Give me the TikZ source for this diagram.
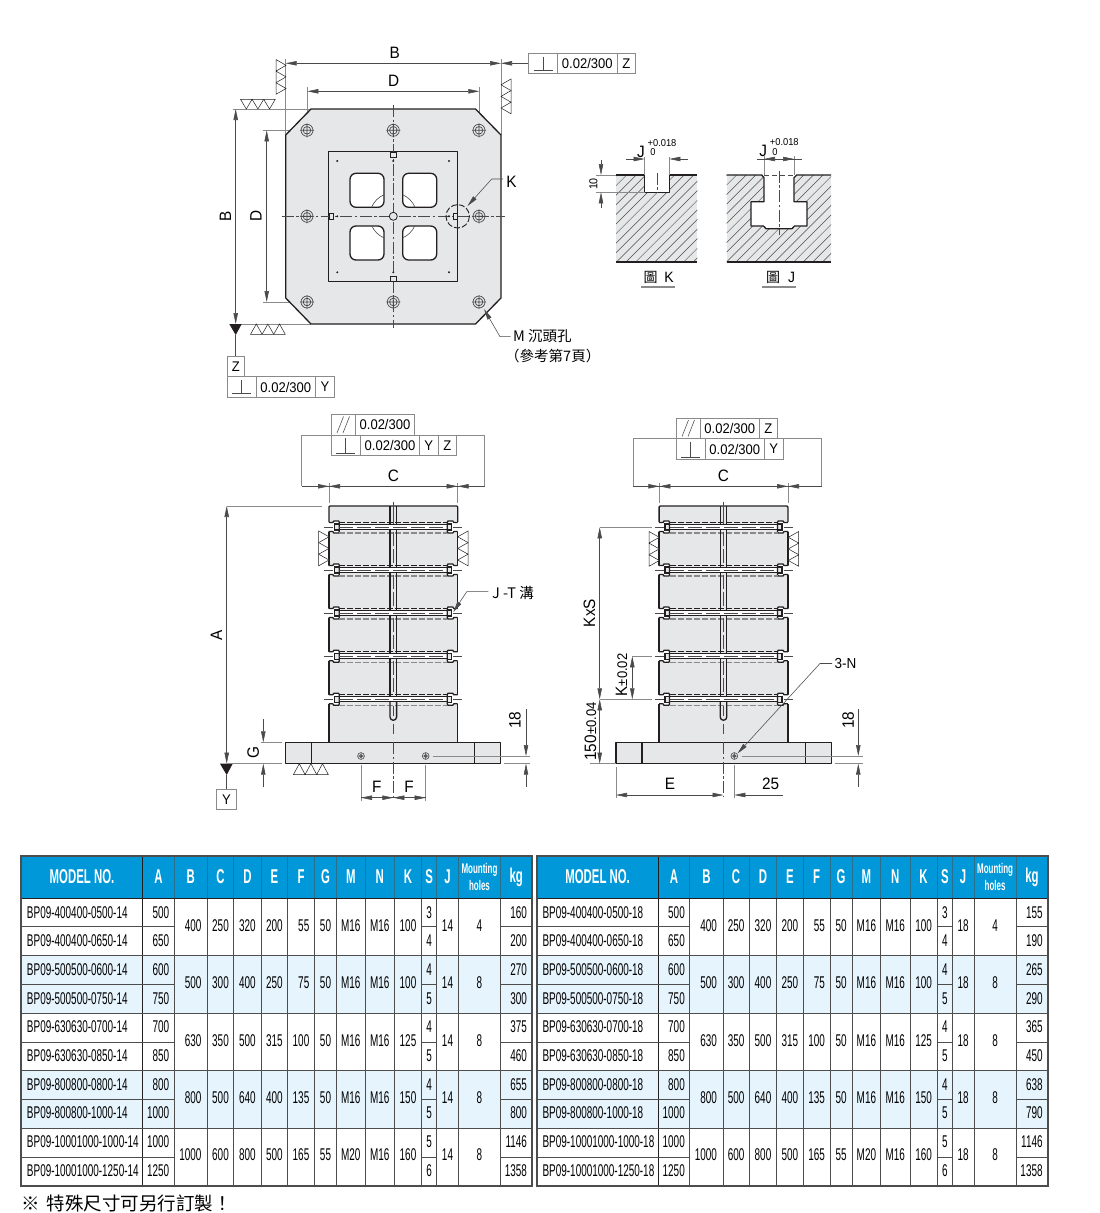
\documentclass[tikz,border=0pt]{standalone}
\usepackage{fontspec}
\setmainfont{Liberation Sans}
\newfontfamily\cjk{Noto Sans CJK TC}
\newfontfamily\tnum[FakeStretch=0.585]{Liberation Sans}
\newfontfamily\tbold[FakeStretch=0.57]{Liberation Sans Bold}
\newfontfamily\dimf[FakeStretch=0.93]{Liberation Sans}
\usetikzlibrary{arrows.meta}
\definecolor{ink}{HTML}{231F20}
\definecolor{thinc}{HTML}{4A4A4A}
\definecolor{extc}{HTML}{8A8A8A}
\definecolor{plate}{HTML}{E6E7E8}
\definecolor{headb}{HTML}{0098D8}
\definecolor{zebra}{HTML}{E6F4FD}
\definecolor{gridc}{HTML}{4D4D4D}
\tikzset{
  heavy/.style={draw=ink,line width=1.3pt,line join=round},
  thinl/.style={draw=thinc,line width=0.55pt},
  extl/.style={draw=extc,line width=0.7pt},
  toll/.style={draw=extc,line width=0.9pt},
  cen/.style={draw=thinc,line width=0.55pt,dash pattern=on 12pt off 2.5pt on 2.5pt off 2.5pt},
  arr/.style={-{Triangle[length=11pt,width=4.4pt]}},
  arrs/.style={{Triangle[length=11pt,width=4.4pt]}-{Triangle[length=11pt,width=4.4pt]}},
  lab/.style={inner sep=0pt,font=\dimf\fontsize{16.5}{18}\selectfont},
  tol/.style={inner sep=0pt,font=\dimf\fontsize{14}{16}\selectfont},
  cjkl/.style={inner sep=0pt,font=\cjk\fontsize{14.5}{16}\selectfont,anchor=west},
  cell/.style={inner sep=0pt,font=\tnum\fontsize{17}{18}\selectfont},
  hcell/.style={inner sep=0pt,text=white,font=\tbold\fontsize{20}{21}\selectfont},
}
\newcommand{\trisH}[3]{\foreach \q in {0,1,2}{\draw[draw=ink,line width=0.5pt,fill=white] ({#3+\q*11.6},#1)--({#3+(\q+.5)*11.6},#2)--({#3+(\q+1)*11.6},#1)--cycle;}}
\newcommand{\trisV}[3]{\foreach \q in {0,1,2}{\draw[draw=ink,line width=0.5pt,fill=white] (#1,{#3+\q*11.6})--(#2,{#3+(\q+.5)*11.6})--(#1,{#3+(\q+1)*11.6})--cycle;}}
\newcommand{\perpsym}[4]{\draw[thinl] ({#1-#4},#2)--({#1+#4},#2) (#1,#2)--(#1,#3);}
\newcommand{\hole}[2]{\draw[draw=thinc,line width=0.7pt,fill=plate] (#1,#2) circle (6);\draw[draw=thinc,line width=0.7pt] (#1,#2) circle (3.8) (#1-7,#2)--(#1+7,#2) (#1,#2-7)--(#1,#2+7);}
\newcommand{\dotm}[2]{\fill[ink] (#1,#2) circle (1.1);}
\newcommand{\joint}[1]{%
  \pgfmathsetmacro{\Ja}{#1-4.5}\pgfmathsetmacro{\Jb}{#1+4.5}\pgfmathsetmacro{\Jc}{#1-6}\pgfmathsetmacro{\Jd}{#1+6}%
  \pgfmathsetmacro{\Je}{#1-2.7}\pgfmathsetmacro{\Jf}{#1+2.3}\pgfmathsetmacro{\Jg}{#1-3}\pgfmathsetmacro{\Jh}{#1+3}%
  \fill[white] (-66,\Ja) rectangle (-60,\Jb) (66,\Ja) rectangle (60,\Jb) (-60.2,\Jc) rectangle (-54,\Jd) (60.2,\Jc) rectangle (54,\Jd) (-54,\Je) rectangle (54,\Jf);
  \fill[plate] (-58.5,\Jg) rectangle (-54,\Jh) (58.5,\Jg) rectangle (54,\Jh);
  \draw[heavy] (-64.4,\Ja)--(-60.5,\Ja)--(-59.5,\Jc)--(-54.6,\Jc)--(-54,\Ja)--(-54,\Jb)--(-54.6,\Jd)--(-59.5,\Jd)--(-60.5,\Jb)--(-64.4,\Jb);
  \draw[heavy] (64.4,\Ja)--(60.5,\Ja)--(59.5,\Jc)--(54.6,\Jc)--(54,\Ja)--(54,\Jb)--(54.6,\Jd)--(59.5,\Jd)--(60.5,\Jb)--(64.4,\Jb);
  \draw[draw=ink,line width=1.1pt] (-54,\Jg)--(-58.5,\Jg)--(-58.5,\Jh)--(-54,\Jh) (54,\Jg)--(58.5,\Jg)--(58.5,\Jh)--(54,\Jh);
  \draw[draw=ink,line width=0.7pt,dash pattern=on 6pt off 2pt] (-54,\Ja)--(54,\Ja);
  \draw[draw=ink,line width=0.6pt] (-54,\Je)--(54,\Je);
  \draw[draw=ink,line width=1.1pt] (-54,\Jf)--(54,\Jf);
  \draw[draw=extc,line width=1.1pt,dash pattern=on 6pt off 2pt] (-54,\Jd)--(54,\Jd);
  \draw[thinl] (-69,#1)--(-60,#1) (60,#1)--(69,#1);
  \draw[draw=thinc,line width=0.6pt,dash pattern=on 14pt off 4pt] (-54,#1)--(54,#1);
}
\newcommand{\stackbody}{%
  \fill[plate] (-64.4,506) rectangle (64.4,742.3);
  \draw[heavy] (-64.4,522.2)--(-64.4,507)--(-63.4,506)--(63.4,506)--(64.4,507)--(64.4,522.2);
  \foreach \ya/\yb in {531.2/565.5,574.2/608.5,617.2/651.8,660.8/694.8}{\draw[heavy] (-64.4,\ya)--(-64.4,\yb) (64.4,\ya)--(64.4,\yb);}
  \draw[heavy] (-64.4,703.8)--(-64.4,742.3) (64.4,703.8)--(64.4,742.3);
  \foreach \J in {527,570,613,656.3,699.3}{\joint{\J}}
  \foreach \ya/\yb in {506/524.3,529.3/567.3,572.3/610.3,615.3/653.6,658.6/696.6}{\draw[heavy] (-3.3,\ya)--(-3.3,\yb) (3.3,\ya)--(3.3,\yb);}
  \foreach \ya/\yb in {532/566,575/609,618/652,661/695}{\draw[draw=thinc,line width=0.6pt,dash pattern=on 14pt off 3pt] (0,\ya)--(0,\yb);}
  \draw[heavy] (-3.3,701.6)--(-3.3,717) arc[start angle=180,end angle=0,radius=3.3]--(3.3,701.6);
  \draw[thinl] (0,501.7)--(0,524);
  \draw[draw=thinc,line width=0.6pt,dash pattern=on 10pt off 4pt] (0,706)--(0,717) (0,724)--(0,738);
}
\newcommand{\base}[2]{%
  \fill[plate] (#1,742.3) rectangle (#2,763.7);
  \draw[heavy] (#1,742.3) rectangle (#2,763.7);
  \draw[heavy] ({#1+26},742.3)--({#1+26},763.7) ({#2-26},742.3)--({#2-26},763.7);
  \draw[cen] (0,742.3)--(0,796.7);
}
\newcommand{\basehole}[2]{\draw[draw=thinc,line width=0.6pt,fill=plate] (#1,#2) circle (3.4);\draw[draw=thinc,line width=0.5pt] (#1,#2) circle (1.8) (#1-3.4,#2)--(#1+3.4,#2) (#1,#2-3.4)--(#1,#2+3.4);}
\newcommand{\maketable}[2]{%
  \foreach \i/\zb in {0/0,1/1,2/0,3/1,4/0}{
    \pgfmathsetmacro{\yt}{898+57.6*\i}
    \ifnum\zb=1 \fill[zebra] (21.1,\yt) rectangle (532.2,{\yt+57.6}); \fi
  }
  \fill[headb] (21.1,855.7) rectangle (532.2,898);
  \foreach \x in {174.2,207.4,233.7,261.1,287.5,314.5,336.5,365.2,394.3,421.7,436.6,458.5,500.5}{
    \draw[draw=gridc,line width=0.8pt] (\x,898)--(\x,1186);
    \draw[draw=gridc!55!headb,line width=0.7pt] (\x,855.7)--(\x,898);
  }
  \draw[draw=ink,line width=1pt] (142.8,855.7)--(142.8,1186);
  \foreach \i in {0,...,4}{
    \pgfmathsetmacro{\ym}{898+57.6*\i+28.8}
    \pgfmathsetmacro{\yb}{898+57.6*(\i+1)}
    \draw[draw=gridc,line width=0.8pt] (21.1,\ym)--(174.2,\ym) (421.7,\ym)--(436.6,\ym) (500.5,\ym)--(532.2,\ym);
    \draw[draw=gridc,line width=0.8pt] (21.1,\yb)--(532.2,\yb);
  }
  \draw[draw=ink,line width=1pt] (21.1,898)--(532.2,898);
  \draw[draw=gridc,line width=1.6pt] (21.1,855.7) rectangle (532.2,1186);
  \node[hcell] (hm#1) at (82,877) {MODEL NO.};
  \foreach \n/\t/\xx in {a/A/158.5,b/B/190.8,c/C/220.5,d/D/247.4,e/E/274.3,f/F/301,g/G/325.5,m/M/350.8,n/N/379.7,k/K/408,s/S/429.2,j/J/447.5,w/kg/516.3}{
    \node[hcell] (h\n#1) at (\xx,877) {\t};
  }
  \node[hcell,align=center,font=\tbold\fontsize{14}{17}\selectfont] (hh#1) at (479.5,877) {Mounting\\holes};
  \foreach \i/\pa/\pb/\aa/\ab/\vB/\vC/\vD/\vE/\vF/\vG/\vM/\vK/\sa/\sb/\hh in {
    0/400400-0500/400400-0650/500/650/400/250/320/200/55/50/M16/100/3/4/4,
    1/500500-0600/500500-0750/600/750/500/300/400/250/75/50/M16/100/4/5/8,
    2/630630-0700/630630-0850/700/850/630/350/500/315/100/50/M16/125/4/5/8,
    3/800800-0800/800800-1000/800/1000/800/500/640/400/135/50/M16/150/4/5/8,
    4/10001000-1000/10001000-1250/1000/1250/1000/600/800/500/165/55/M20/160/5/6/8}{
    \pgfmathsetmacro{\ya}{912.4+57.34*\i}
    \pgfmathsetmacro{\yb}{\ya+28.67}
    \pgfmathsetmacro{\yc}{\ya+13.2}
    \node[cell,anchor=west] (ma\i#1) at (26.8,\ya) {BP09-\pa-#1};
    \node[cell,anchor=west] (mb\i#1) at (26.8,\yb) {BP09-\pb-#1};
    \node[cell,anchor=east] (aa\i#1) at (169.4,\ya) {\aa};
    \node[cell,anchor=east] (ab\i#1) at (169.4,\yb) {\ab};
    \node[cell,anchor=east] (vb\i#1) at (201.6,\yc) {\vB};
    \node[cell] (vc\i#1) at (220.5,\yc) {\vC};
    \node[cell] (vd\i#1) at (247.4,\yc) {\vD};
    \node[cell] (ve\i#1) at (274.3,\yc) {\vE};
    \node[cell,anchor=east] (vf\i#1) at (309.5,\yc) {\vF};
    \node[cell] (vg\i#1) at (325.5,\yc) {\vG};
    \node[cell] (vm\i#1) at (350.8,\yc) {\vM};
    \node[cell] (vn\i#1) at (379.7,\yc) {M16};
    \node[cell] (vk\i#1) at (408,\yc) {\vK};
    \node[cell] (sa\i#1) at (429.2,\ya) {\sa};
    \node[cell] (sb\i#1) at (429.2,\yb) {\sb};
    \node[cell] (vj\i#1) at (447.5,\yc) {#2};
    \node[cell] (vh\i#1) at (479.5,\yc) {\hh};
  }
}
\newcommand{\kgs}[2]{%
  \foreach \i/\ka/\kb in {#2}{
    \pgfmathsetmacro{\ya}{912.4+57.34*\i}
    \pgfmathsetmacro{\yb}{\ya+28.67}
    \node[cell,anchor=east] (ka\i#1) at (527.2,\ya) {\ka};
    \node[cell,anchor=east] (kb\i#1) at (527.2,\yb) {\kb};
  }
}
\begin{document}
\begin{tikzpicture}[x=1pt,y=-1pt]
\useasboundingbox (0,0) rectangle (1100,1213);
\fill[white] (0,0) rectangle (1100,1213);

%% ---------- TOP VIEW ----------
\draw[extl] (285.7,59)--(285.7,135) (501,59)--(501,135);
\draw[extl] (307.3,87)--(307.3,113) (479.3,87)--(479.3,113);
\draw[extl] (232.7,109)--(311,109) (232,324)--(311,324);
\draw[extl] (263,130.3)--(297,130.3) (263,302)--(297,302);
\draw[heavy,fill=plate] (311,109)--(475.5,109)--(501,135)--(501,298)--(475.5,324)--(311,324)--(285.7,298)--(285.7,135)--cycle;
\draw[heavy] (328.7,151.7) rectangle (457.7,281.3);
\begin{scope}
  \foreach \x/\y in {350/173.3,402.7/173.3,350/226,402.7/226}{
    \draw[heavy,fill=white,rounded corners=6pt] (\x,\y) rectangle ({\x+34},{\y+34});
  }
  \clip (350,173.3) rectangle (384,207.3) (402.7,173.3) rectangle (436.7,207.3) (350,226) rectangle (384,260) (402.7,226) rectangle (436.7,260);
  \draw[draw=thinc,line width=0.6pt] (393.3,216.3) circle (23.5);
\end{scope}
\foreach \x/\y in {307/130.3,393.3/130.3,479/130.3,307/216.3,479/216.3,307/302,393.3/302,479/302}{\hole{\x}{\y}}
\draw[cen] (281.7,216.3)--(505,216.3);
\draw[cen] (393.3,105)--(393.3,328.3);
\draw[draw=ink,line width=0.8pt,fill=plate] (393.3,216.3) circle (4);
\foreach \x/\y in {337.3/161,449/161,337.3/272.3,449/272.3,393.3/161,393.3/272.3,337.3/216.3,449/216.3}{\dotm{\x}{\y}}
\foreach \xa/\ya/\xb/\yb in {390/152.3/396.7/157,390/276.6/396.7/281.3,329/213.5/333.7/219.5,453/213.5/457.7/219.5}{\draw[draw=ink,line width=0.6pt,fill=plate] (\xa,\ya) rectangle (\xb,\yb);}
\draw[draw=ink,line width=0.9pt,dash pattern=on 6pt off 2pt] (457.7,216.3) circle (11.7);
\draw[thinl,arrs] (285.7,63.3)--(501,63.3);
\draw[thinl,arr] (528.7,63.3)--(501,63.3);
\draw[thinl,arrs] (307.3,91.3)--(479.3,91.3);
\draw[thinl,arrs] (235.7,109)--(235.7,324);
\draw[thinl,arrs] (266.7,130.3)--(266.7,302);
\node[lab] (tB) at (394.7,53) {B};
\node[lab] (tD) at (393.7,80.7) {D};
\node[lab,rotate=90] (lB) at (225.5,216.3) {B};
\node[lab,rotate=90] (lD) at (256,216.3) {D};
\trisV{276}{286}{59.5}
\trisV{511}{501}{79}
\trisH{99.3}{109}{240.5}
\trisH{334.3}{324}{250.5}
\fill[ink] (229.3,324)--(241.7,324)--(235.7,335)--cycle;
\draw[thinl] (235.7,335)--(235.7,356);
\draw[toll] (528.7,53.3) rectangle (635.3,73.3) (557.3,53.3)--(557.3,73.3) (617.3,53.3)--(617.3,73.3);
\perpsym{543.3}{70.7}{56.7}{9.3}
\node[tol] (t1) at (587.3,63.5) {0.02/300};
\node[tol] (t1z) at (626.3,63.5) {Z};
\draw[toll] (227.3,356) rectangle (244.3,376.7);
\draw[toll] (227.3,376.7) rectangle (334.3,397.3) (256,376.7)--(256,397.3) (315.7,376.7)--(315.7,397.3);
\perpsym{241.3}{393.3}{380}{9.3}
\node[tol] (t2zz) at (235.8,366.5) {Z};
\node[tol] (t2) at (285.8,387) {0.02/300};
\node[tol] (t2y) at (325,387) {Y};
\coordinate (kend) at (491.7,179);
\coordinate (kgo) at (503,179);
\node[lab] (lK) at (511.5,181.5) {K};
\draw[thinl,arr] (kgo)--(kend)--(467.5,206);
\node[cjkl] (lM) at (513,336.5) {M 沉頭孔};
\node[cjkl] (lM2) at (505,356) {（參考第7頁）};
\coordinate (mb) at (500,336.7);
\coordinate (mt) at (510.5,336.7);
\draw[thinl,arr] (mt)--(mb)--(484,309);

%% ---------- SECTIONS ----------
\begin{scope}
  \fill[plate] (616,175) rectangle (697.3,262);
  \begin{scope}
    \clip (616,175) rectangle (697.3,262);
    \foreach \k in {0,...,18}{\draw[draw=thinc,line width=0.5pt] ({530+\k*9.6},262)--({530+\k*9.6+87},175);}
  \end{scope}
  \fill[white] (644.7,175) rectangle (669.3,192.3);
  \draw[heavy] (616,175)--(644.7,175)--(644.7,192.3)--(669.3,192.3)--(669.3,175)--(697.3,175);
  \draw[heavy] (616,262)--(697.3,262);
  \draw[cen] (657,172.7)--(657,193.3);
\end{scope}
\draw[extl] (644.7,157.3)--(644.7,175) (669.3,157.3)--(669.3,175);
\draw[thinl,arr] (626,159)--(644.7,159);
\draw[thinl,arr] (687.7,159)--(669.3,159);
\draw[extl] (596,175)--(616,175) (596,192.3)--(644.7,192.3);
\draw[thinl,arr] (601,160)--(601,175);
\draw[thinl,arr] (601,208.3)--(601,192.3);
\node[lab,font=\dimf\fontsize{11.5}{13}\selectfont,rotate=90] (t10) at (593.5,184) {10};
\node[lab] (tJ1) at (641,152) {J};
\node[lab,font=\dimf\fontsize{10}{11}\selectfont] (tp1) at (662,142.7) {+0.018};
\node[lab,font=\dimf\fontsize{10}{11}\selectfont] (tz1) at (653,152.5) {0};
\node[inner sep=0pt,font=\cjk\fontsize{14}{15}\selectfont] (fK) at (650.7,277.7) {圖};
\node[lab,font=\dimf\fontsize{15}{17}\selectfont] (fKl) at (669,277.3) {K};
\draw[draw=extc,line width=1.7pt] (641,287)--(675,287);
\begin{scope}
  \fill[plate] (726.7,175) rectangle (831,262);
  \begin{scope}
    \clip (726.7,175) rectangle (831,262);
    \foreach \k in {0,...,20}{\draw[draw=thinc,line width=0.5pt] ({640+\k*9.6},262)--({640+\k*9.6+87},175);}
  \end{scope}
  \fill[white] (761.7,175)--(764,177.7)--(764,201.7)--(751,201.7)--(751,226)--(763.5,226)--(766,228.7)--(792,228.7)--(794.5,226)--(807,226)--(807,201.7)--(794,201.7)--(794,177.7)--(796.7,175)--cycle;
  \draw[heavy] (726.7,175)--(761.7,175)--(764,177.7)--(764,201.7)--(751,201.7)--(751,226)--(763.5,226)--(766,228.7)--(792,228.7)--(794.5,226)--(807,226)--(807,201.7)--(794,201.7)--(794,177.7)--(796.7,175)--(831,175);
  \draw[heavy] (726.7,262)--(831,262);
  \draw[cen] (779,170.7)--(779,235);
  \draw[draw=thinc,line width=0.5pt,dash pattern=on 5pt off 3pt] (764,175)--(794,175);
\end{scope}
\draw[extl] (764,156)--(764,175) (794,156)--(794,175);
\draw[thinl] (757,159)--(801.5,159);
\draw[thinl,arrs] (764,159)--(794,159);
\node[lab] (tJ2) at (763.3,150.5) {J};
\node[lab,font=\dimf\fontsize{10}{11}\selectfont] (tp2) at (784.3,142) {+0.018};
\node[lab,font=\dimf\fontsize{10}{11}\selectfont] (tz2) at (775,151.7) {0};
\node[inner sep=0pt,font=\cjk\fontsize{14}{15}\selectfont] (fJ) at (773,277.7) {圖};
\node[lab,font=\dimf\fontsize{15}{17}\selectfont] (fJl) at (791.7,277.3) {J};
\draw[draw=extc,line width=1.7pt] (762.3,287)--(795.7,287);

%% ---------- LEFT FRONT VIEW ----------
\begin{scope}[shift={(393.3,0)}]
  \stackbody
  \base{-107.6}{107.4}
  \basehole{-32.3}{756}
  \basehole{32.4}{756}
\end{scope}
\draw[extl] (329,482.7)--(329,502.7) (457.7,482.7)--(457.7,502.7);
\draw[extl] (301.7,435)--(301.7,486.3) (484.7,435)--(484.7,486.3);
\draw[extl] (301.7,435)--(331.7,435) (456.7,435)--(484.7,435);
\draw[thinl] (301.7,486.3)--(484.7,486.3);
\draw[thinl,arr] (317,486.3)--(329,486.3);
\draw[thinl,arr] (341,486.3)--(329,486.3);
\draw[thinl,arr] (469.7,486.3)--(457.7,486.3);
\draw[thinl,arr] (445.7,486.3)--(457.7,486.3);
\node[lab] (cL) at (393.3,476) {C};
\draw[toll] (331.7,414.3) rectangle (414.3,435) (355.7,414.3)--(355.7,435);
\draw[toll] (331.7,435) rectangle (456.7,455.7) (360.7,435)--(360.7,455.7) (419.3,435)--(419.3,455.7) (438,435)--(438,455.7);
\draw[thinl] (337,433)--(343.5,416.5) (343,433)--(349.5,416.5);
\perpsym{345.5}{453.7}{438.3}{9.5}
\node[tol] (t3) at (385,424.8) {0.02/300};
\node[tol] (t4) at (390,445.3) {0.02/300};
\node[tol] (t4y) at (428.7,445.3) {Y};
\node[tol] (t4z) at (447.3,445.3) {Z};
\trisV{318.7}{329}{531}
\trisV{468}{457.7}{531}
\draw[extl] (226.7,506)--(322,506);
\draw[thinl,arrs] (226.7,506)--(226.7,763.7);
\node[lab,rotate=90] (lA) at (216.5,635) {A};
\fill[ink] (220,763.7)--(232.7,763.7)--(226.7,775)--cycle;
\draw[thinl] (226.7,775)--(226.7,789);
\draw[toll] (216.7,789) rectangle (236,809);
\node[tol] (tY) at (226.4,799.3) {Y};
\draw[extl] (226.7,763.7)--(281.7,763.7) (260.7,742.3)--(281.7,742.3);
\draw[thinl,arr] (263.3,719)--(263.3,742.3);
\draw[thinl,arr] (263.3,786.7)--(263.3,763.7);
\node[lab,rotate=90] (lG) at (253.3,752.7) {G};
\trisH{774.5}{763.7}{293.5}
\draw[extl] (433.3,756)--(530,756) (504,763.7)--(530,763.7);
\draw[thinl,arr] (526,709)--(526,756);
\draw[thinl,arr] (526,786.7)--(526,763.7);
\node[lab,rotate=90] (l18a) at (515,720) {18};
\draw[extl] (361,765)--(361,800.7) (425.7,765)--(425.7,800.7);
\draw[thinl] (361,797.7)--(425.7,797.7);
\draw[thinl,arrs] (361,797.7)--(393.3,797.7);
\draw[thinl,arrs] (393.3,797.7)--(425.7,797.7);
\node[lab] (lF1) at (376.7,786.7) {F};
\node[lab] (lF2) at (409,786.7) {F};
\node[cjkl] (lJT) at (492,592.5) {J -T 溝};
\coordinate (jta) at (488.3,591.7);
\coordinate (jtb) at (466.7,591.7);
\draw[thinl,arr] (jta)--(jtb)--(453.3,612);

%% ---------- RIGHT FRONT VIEW ----------
\begin{scope}[shift={(723.5,0)}]
  \stackbody
  \base{-107.5}{107.8}
  \basehole{10.8}{756}
\end{scope}
\draw[extl] (659.3,482.7)--(659.3,502.7) (788,482.7)--(788,502.7);
\draw[extl] (633.3,438.3)--(633.3,486.3) (821.7,438.3)--(821.7,486.3);
\draw[extl] (633.3,438.3)--(676.7,438.3) (783.3,438.3)--(821.7,438.3);
\draw[thinl] (633.3,486.3)--(821.7,486.3);
\draw[thinl,arr] (647.3,486.3)--(659.3,486.3);
\draw[thinl,arr] (671.3,486.3)--(659.3,486.3);
\draw[thinl,arr] (800,486.3)--(788,486.3);
\draw[thinl,arr] (776,486.3)--(788,486.3);
\node[lab] (cR) at (723.5,475.7) {C};
\draw[toll] (676.7,418.3) rectangle (777.3,438.3) (700,418.3)--(700,438.3) (759.3,418.3)--(759.3,438.3);
\draw[toll] (676.7,438.3) rectangle (783.3,459.3) (705,438.3)--(705,459.3) (764.3,438.3)--(764.3,459.3);
\draw[thinl] (682,436.5)--(688.5,420) (688,436.5)--(694.5,420);
\perpsym{690.5}{457.3}{441.5}{9.5}
\node[tol] (t5) at (729.8,428.5) {0.02/300};
\node[tol] (t5z) at (768.3,428.5) {Z};
\node[tol] (t6) at (734.8,449) {0.02/300};
\node[tol] (t6y) at (773.8,449) {Y};
\trisV{649}{659.3}{531.5}
\trisV{798.7}{788.3}{531.5}
\draw[extl] (600,527.3)--(651.7,527.3) (600,699.3)--(651.7,699.3) (632,656.3)--(651.7,656.3) (590,763.7)--(616,763.7);
\draw[thinl,arrs] (599.7,527.3)--(599.7,699.3);
\draw[thinl,arrs] (599.7,699.3)--(599.7,763.7);
\draw[thinl,arrs] (632.3,656.3)--(632.3,699.3);
\node[lab,rotate=90] (lKS) at (589.5,613) {KxS};
\node[lab,rotate=90] (lKT) at (621.5,675) {K{\fontsize{14}{14}\selectfont±0.02}};
\node[lab,rotate=90] (l150) at (590.5,731.5) {150{\fontsize{14}{14}\selectfont±0.04}};
\draw[extl] (616,767.3)--(616,798.3) (734.3,765)--(734.3,798.3);
\draw[thinl,arrs] (616,795)--(723.5,795);
\draw[thinl,arr] (783.3,795)--(734.3,795);
\node[lab] (lE) at (670,784) {E};
\node[lab] (l25) at (770.7,784) {25};
\draw[extl] (741.7,756)--(862.7,756) (835,763.7)--(862.7,763.7);
\draw[thinl,arr] (858.3,709)--(858.3,756);
\draw[thinl,arr] (858.3,786.7)--(858.3,763.7);
\node[lab,rotate=90] (l18b) at (848.3,720) {18};
\node[lab,anchor=west,font=\dimf\fontsize{14.5}{16}\selectfont] (l3N) at (834.5,663.5) {3-N};
\coordinate (na) at (832,663.5);
\coordinate (nb) at (820,663.5);
\draw[thinl,arr] (na)--(nb)--(737.5,753.5);

%% ---------- TABLES ----------
\maketable{14}{14}
\kgs{14}{0/160/200,1/270/300,2/375/460,3/655/800,4/1146/1358}
\begin{scope}[shift={(515.6,0)}]
  \maketable{18}{18}
  \kgs{18}{0/155/190,1/265/290,2/365/450,3/638/790,4/1146/1358}
\end{scope}
\node[inner sep=0pt,anchor=west,font=\cjk\fontsize{18.5}{20}\selectfont] (note) at (21,1203) {※\hspace{7pt}特殊尺寸可另行訂製！};
\end{tikzpicture}
\end{document}
